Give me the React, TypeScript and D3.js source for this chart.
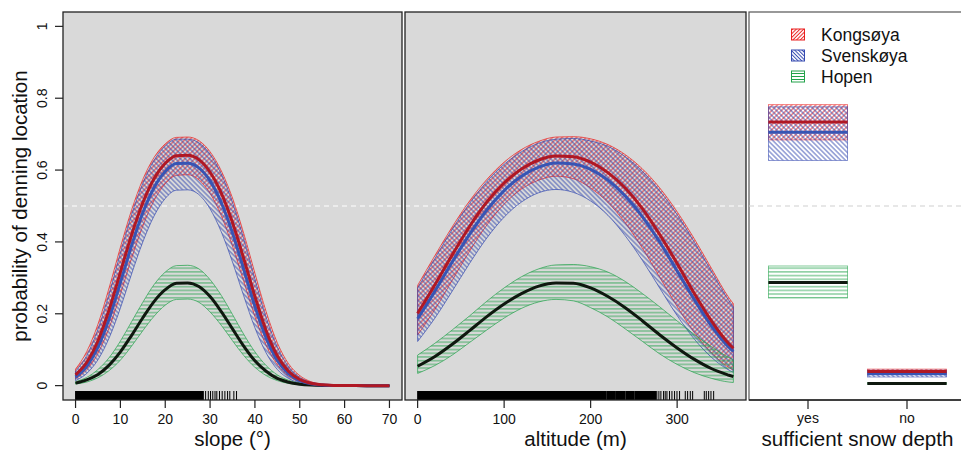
import React from "react";
import * as d3 from "d3";

// ---------- data ----------
const slopeX = [0, 2.5, 5, 7.5, 10, 12.5, 15, 17.5, 20, 22.5, 25, 27.5, 30, 32.5, 35, 37.5, 40, 42.5, 45, 47.5, 50, 52.5, 55, 57.5, 60, 65, 70];
const slopeKongMean = [0.030, 0.065, 0.125, 0.212, 0.316, 0.420, 0.509, 0.576, 0.619, 0.640, 0.641, 0.629, 0.594, 0.536, 0.454, 0.354, 0.248, 0.153, 0.083, 0.040, 0.017, 0.0066, 0.0023, 0.0006, 0.0001, 0, 0];
const slopeKongHi = [0.046, 0.095, 0.171, 0.273, 0.385, 0.489, 0.574, 0.635, 0.673, 0.691, 0.692, 0.682, 0.651, 0.598, 0.522, 0.424, 0.313, 0.206, 0.119, 0.061, 0.028, 0.011, 0.0042, 0.0014, 0.0005, 0, 0];
const slopeKongLo = [0.019, 0.044, 0.090, 0.161, 0.254, 0.354, 0.444, 0.515, 0.562, 0.585, 0.587, 0.573, 0.535, 0.473, 0.388, 0.290, 0.192, 0.112, 0.058, 0.026, 0.011, 0.0039, 0.0013, 0.0004, 0.0001, 0, 0];
const slopeSvenMean = [0.024, 0.054, 0.107, 0.187, 0.287, 0.390, 0.481, 0.551, 0.596, 0.618, 0.619, 0.606, 0.570, 0.509, 0.425, 0.324, 0.221, 0.133, 0.070, 0.033, 0.014, 0.0051, 0.0017, 0.0005, 0.0001, 0, 0];
const slopeSvenHi = [0.040, 0.084, 0.157, 0.256, 0.369, 0.476, 0.563, 0.627, 0.667, 0.686, 0.686, 0.676, 0.644, 0.589, 0.510, 0.409, 0.296, 0.190, 0.107, 0.053, 0.023, 0.0092, 0.0033, 0.0011, 0.0003, 0, 0];
const slopeSvenLo = [0.014, 0.034, 0.072, 0.133, 0.216, 0.311, 0.400, 0.472, 0.521, 0.544, 0.545, 0.532, 0.492, 0.428, 0.344, 0.250, 0.161, 0.091, 0.045, 0.020, 0.0078, 0.0028, 0.0009, 0.0003, 0, 0, 0];
const slopeHopenMean = [0.007, 0.016, 0.031, 0.057, 0.094, 0.140, 0.189, 0.234, 0.267, 0.285, 0.286, 0.276, 0.248, 0.206, 0.158, 0.110, 0.069, 0.040, 0.020, 0.0094, 0.0040, 0.0015, 0.0005, 0.0002, 0.0001, 0, 0];
const slopeHopenHi = [0.011, 0.023, 0.045, 0.078, 0.124, 0.178, 0.232, 0.281, 0.316, 0.334, 0.335, 0.325, 0.295, 0.251, 0.198, 0.143, 0.094, 0.056, 0.030, 0.015, 0.0065, 0.0026, 0.0009, 0.0003, 0.0001, 0, 0];
const slopeHopenLo = [0.0045, 0.010, 0.022, 0.042, 0.071, 0.110, 0.153, 0.193, 0.224, 0.240, 0.241, 0.232, 0.205, 0.168, 0.125, 0.084, 0.051, 0.028, 0.014, 0.0061, 0.0025, 0.0009, 0.0003, 0.0001, 0, 0, 0];

const altX = [0, 20, 40, 60, 80, 100, 120, 140, 160, 180, 200, 220, 240, 260, 280, 300, 320, 340, 360, 365];
const altKongMean = [0.201, 0.281, 0.364, 0.443, 0.511, 0.564, 0.603, 0.628, 0.639, 0.637, 0.622, 0.593, 0.550, 0.492, 0.420, 0.340, 0.256, 0.179, 0.116, 0.104];
const altKongHi = [0.279, 0.362, 0.442, 0.514, 0.574, 0.622, 0.657, 0.680, 0.692, 0.693, 0.687, 0.671, 0.643, 0.603, 0.550, 0.484, 0.408, 0.325, 0.244, 0.228];
const altKongLo = [0.141, 0.212, 0.293, 0.374, 0.447, 0.505, 0.547, 0.572, 0.583, 0.576, 0.550, 0.510, 0.453, 0.382, 0.301, 0.220, 0.147, 0.090, 0.050, 0.043];
const altSvenMean = [0.186, 0.263, 0.344, 0.421, 0.489, 0.543, 0.583, 0.608, 0.620, 0.617, 0.602, 0.572, 0.528, 0.470, 0.399, 0.319, 0.239, 0.165, 0.106, 0.095];
const altSvenHi = [0.272, 0.354, 0.435, 0.507, 0.568, 0.616, 0.651, 0.675, 0.686, 0.688, 0.681, 0.666, 0.637, 0.596, 0.542, 0.476, 0.399, 0.317, 0.236, 0.219];
const altSvenLo = [0.123, 0.188, 0.263, 0.340, 0.411, 0.469, 0.511, 0.537, 0.546, 0.538, 0.514, 0.474, 0.417, 0.348, 0.271, 0.195, 0.129, 0.078, 0.043, 0.037];
const altHopenMean = [0.054, 0.081, 0.115, 0.153, 0.192, 0.227, 0.256, 0.277, 0.286, 0.285, 0.272, 0.248, 0.217, 0.180, 0.141, 0.105, 0.073, 0.047, 0.029, 0.025];
const altHopenHi = [0.085, 0.118, 0.155, 0.194, 0.235, 0.272, 0.303, 0.325, 0.336, 0.337, 0.331, 0.316, 0.290, 0.256, 0.219, 0.180, 0.142, 0.108, 0.078, 0.072];
const altHopenLo = [0.034, 0.056, 0.085, 0.120, 0.155, 0.188, 0.215, 0.233, 0.240, 0.236, 0.217, 0.191, 0.158, 0.123, 0.088, 0.059, 0.036, 0.020, 0.010, 0.009];

const snowCats = ["yes", "no"];
const snowKongMean = [0.734, 0.039];
const snowKongHi = [0.782, 0.046];
const snowKongLo = [0.684, 0.031];
const snowSvenMean = [0.705, 0.033];
const snowSvenHi = [0.776, 0.043];
const snowSvenLo = [0.627, 0.024];
const snowHopenMean = [0.287, 0.006];
const snowHopenHi = [0.333, 0.008];
const snowHopenLo = [0.244, 0.004];

const slopeRugDense = [[0, 28.5]];
const slopeRugTicks = [29.0, 29.6, 30.1, 30.6, 31.1, 31.5, 32.1, 32.7, 33.3, 33.9, 34.4, 35.3, 35.9];
const altRugDense = [[0, 217.5], [218.6, 228.6], [229.7, 239.6], [240.7, 250.4], [251.5, 275.5]];
const altRugTicks = [276.5, 278.9, 281.2, 284.3, 286.2, 288.2, 291.2, 294, 297, 299.8, 302.8, 309.4, 312.1, 315.2, 317.9, 331.4, 333.7, 336.4, 339.1, 342.2];

const yTicks = [0, 0.2, 0.4, 0.6, 0.8, 1];
const yTickLabels = ["0", "0.2", "0.4", "0.6", "0.8", "1"];
const slopeTicks = [0, 10, 20, 30, 40, 50, 60, 70];
const altTicks = [0, 100, 200, 300];

const legendNames = ["Kongsøya", "Svenskøya", "Hopen"];

// ---------- styles ----------
const FONT = "'Liberation Sans', Arial, Helvetica, sans-serif";
const RED_H = "#ea2020";
const BLUE_H = "#3449b0";
const GREEN_H = "#22a24a";
const RED_L = "#b01824";
const BLUE_L = "#3755b4";
const BLACK_L = "#0f180f";

type Row = { x: number; m: number; lo: number; hi: number };
const rows = (xs: number[], m: number[], lo: number[], hi: number[]): Row[] =>
  xs.map((x, i) => ({ x, m: m[i], lo: lo[i], hi: hi[i] }));

const W = 961, H = 455;
const TOP = 12, BOT = 400;

export default function App() {
  const y = d3.scaleLinear().domain([-0.04, 1.04]).range([BOT, TOP]);
  const x1 = d3.scaleLinear().domain([-2.8, 72.8]).range([63, 402]);
  const x2 = d3.scaleLinear().domain([-14.6, 379.6]).range([405, 746]);
  const x3 = d3.scaleLinear().domain([0.404, 2.596]).range([749, 966]);

  const groupsSlope = [
    { d: rows(slopeX, slopeKongMean, slopeKongLo, slopeKongHi), fill: "url(#hRed)", stroke: RED_H, line: RED_L },
    { d: rows(slopeX, slopeSvenMean, slopeSvenLo, slopeSvenHi), fill: "url(#hBlue)", stroke: BLUE_H, line: BLUE_L },
    { d: rows(slopeX, slopeHopenMean, slopeHopenLo, slopeHopenHi), fill: "url(#hGreen)", stroke: GREEN_H, line: BLACK_L },
  ];
  const groupsAlt = [
    { d: rows(altX, altKongMean, altKongLo, altKongHi), fill: "url(#hRed)", stroke: RED_H, line: RED_L },
    { d: rows(altX, altSvenMean, altSvenLo, altSvenHi), fill: "url(#hBlue)", stroke: BLUE_H, line: BLUE_L },
    { d: rows(altX, altHopenMean, altHopenLo, altHopenHi), fill: "url(#hGreen)", stroke: GREEN_H, line: BLACK_L },
  ];

  const panel = (
    xs: d3.ScaleLinear<number, number>,
    groups: typeof groupsSlope,
    ticks: number[],
    rugDense: number[][],
    rugTicks: number[],
    title: string,
    key: string
  ) => {
    const area = d3.area<Row>().x((d) => xs(d.x)).y0((d) => y(d.lo)).y1((d) => y(d.hi)).curve(d3.curveMonotoneX);
    const line = d3.line<Row>().x((d) => xs(d.x)).y((d) => y(d.m)).curve(d3.curveMonotoneX);
    const [r0, r1] = xs.range();
    return (
      <g key={key}>
        <rect x={r0} y={TOP} width={r1 - r0} height={BOT - TOP} fill="#d9d9d9" />
        <line x1={r0} x2={r1} y1={y(0.5)} y2={y(0.5)} stroke="#ffffff" strokeWidth={1.2} strokeDasharray="5,4" />
        {groups.map((g, i) => (
          <path key={"a" + i} d={area(g.d) || ""} fill={g.fill} stroke={g.stroke} strokeWidth={0.7} />
        ))}
        {[2, 1, 0].map((i) => (
          <path key={"l" + i} d={line(groups[i].d) || ""} fill="none" stroke={groups[i].line} strokeWidth={3} />
        ))}
        {rugDense.map((r, i) => (
          <rect key={"rd" + i} x={xs(r[0]) - 0.5} y={391} width={xs(r[1]) - xs(r[0]) + 1} height={BOT - 391} fill="#000" />
        ))}
        {rugTicks.map((t, i) => (
          <line key={"rt" + i} x1={xs(t)} x2={xs(t)} y1={391} y2={BOT} stroke="#000" strokeWidth={1} />
        ))}
        <rect x={r0} y={TOP} width={r1 - r0} height={BOT - TOP} fill="none" stroke="#222" strokeWidth={1.3} />
        {ticks.map((t) => (
          <g key={"t" + t}>
            <line x1={xs(t)} x2={xs(t)} y1={BOT} y2={BOT + 8} stroke="#222" strokeWidth={1.2} />
            <text x={xs(t)} y={424} textAnchor="middle" fontSize={14} fontFamily={FONT} fill="#111">{t}</text>
          </g>
        ))}
        <text x={(r0 + r1) / 2} y={446} textAnchor="middle" fontSize={20.5} fontFamily={FONT} fill="#111">{title}</text>
      </g>
    );
  };

  const fills = ["url(#hRed)", "url(#hBlue)", "url(#hGreen)"];
  const strokes = [RED_H, BLUE_H, GREEN_H];
  const lines = [RED_L, BLUE_L, BLACK_L];
  const snowM = [snowKongMean, snowSvenMean, snowHopenMean];
  const snowLo = [snowKongLo, snowSvenLo, snowHopenLo];
  const snowHi = [snowKongHi, snowSvenHi, snowHopenHi];
  const halfW = x3(1.4) - x3(1);

  return (
    <svg width={W} height={H} style={{ position: "absolute", left: 0, top: 0, background: "#fff" }}>
      <defs>
        <pattern id="hRed" patternUnits="userSpaceOnUse" width={3.4} height={3.4} patternTransform="rotate(-45)">
          <line x1={0} y1={1.7} x2={3.4} y2={1.7} stroke={RED_H} strokeWidth={0.85} />
        </pattern>
        <pattern id="hBlue" patternUnits="userSpaceOnUse" width={3.4} height={3.4} patternTransform="rotate(45)">
          <line x1={0} y1={1.7} x2={3.4} y2={1.7} stroke={BLUE_H} strokeWidth={0.85} />
        </pattern>
        <pattern id="hGreen" patternUnits="userSpaceOnUse" width={4} height={3.7}>
          <line x1={0} y1={1.8} x2={4} y2={1.8} stroke={GREEN_H} strokeWidth={0.85} />
        </pattern>
        <pattern id="lRed" patternUnits="userSpaceOnUse" width={2.6} height={2.6} patternTransform="rotate(-45)">
          <line x1={0} y1={1.3} x2={2.6} y2={1.3} stroke={RED_H} strokeWidth={1} />
        </pattern>
        <pattern id="lBlue" patternUnits="userSpaceOnUse" width={2.6} height={2.6} patternTransform="rotate(45)">
          <line x1={0} y1={1.3} x2={2.6} y2={1.3} stroke={BLUE_H} strokeWidth={1} />
        </pattern>
        <pattern id="lGreen" patternUnits="userSpaceOnUse" width={4} height={3}>
          <line x1={0} y1={1.5} x2={4} y2={1.5} stroke={GREEN_H} strokeWidth={1} />
        </pattern>
      </defs>

      {panel(x1, groupsSlope, slopeTicks, slopeRugDense, slopeRugTicks, "slope (°)", "p1")}
      {panel(x2, groupsAlt, altTicks, altRugDense, altRugTicks, "altitude (m)", "p2")}

      {/* y axis */}
      {yTicks.map((t, i) => (
        <g key={"y" + t}>
          <line x1={55} x2={63} y1={y(t)} y2={y(t)} stroke="#222" strokeWidth={1.2} />
          <text transform={`translate(46.5,${y(t)}) rotate(-90)`} textAnchor="middle" fontSize={14} fontFamily={FONT} fill="#111">{yTickLabels[i]}</text>
        </g>
      ))}
      <text transform={`translate(27,${(TOP + BOT) / 2}) rotate(-90)`} textAnchor="middle" fontSize={20.5} fontFamily={FONT} fill="#111">
        probability of denning location
      </text>

      {/* panel 3 */}
      <g>
        <rect x={749} y={TOP} width={230} height={BOT - TOP} fill="#fff" stroke="#555" strokeWidth={1.2} />
        <line x1={749} x2={966} y1={y(0.5)} y2={y(0.5)} stroke="#cfcfcf" strokeWidth={1.2} strokeDasharray="5,4" />
        {snowCats.map((c, ci) => (
          <g key={c}>
            {[0, 1, 2].map((g) => (
              <rect key={"b" + g} x={x3(ci + 1) - halfW} width={2 * halfW} y={y(snowHi[g][ci])} height={y(snowLo[g][ci]) - y(snowHi[g][ci])}
                fill={fills[g]} stroke={strokes[g]} strokeWidth={0.8} strokeOpacity={0.7} />
            ))}
            {[2, 1, 0].map((g) => (
              <line key={"m" + g} x1={x3(ci + 1) - halfW} x2={x3(ci + 1) + halfW} y1={y(snowM[g][ci])} y2={y(snowM[g][ci])} stroke={lines[g]} strokeWidth={3} />
            ))}
            <line x1={x3(ci + 1)} x2={x3(ci + 1)} y1={BOT} y2={BOT + 9} stroke="#222" strokeWidth={1.2} />
            <text x={x3(ci + 1)} y={423} textAnchor="middle" fontSize={14} fontFamily={FONT} fill="#111">{c}</text>
          </g>
        ))}
        <line x1={749} x2={966} y1={BOT} y2={BOT} stroke="#222" strokeWidth={1.5} />
        <text x={857.5} y={446} textAnchor="middle" fontSize={20.6} fontFamily={FONT} fill="#111">sufficient snow depth</text>
        {legendNames.map((n, i) => (
          <g key={n}>
            <rect x={791.5} y={29 + i * 21} width={13} height={11} fill={["url(#lRed)", "url(#lBlue)", "url(#lGreen)"][i]} stroke={strokes[i]} strokeWidth={1} />
            <text x={821} y={40.5 + i * 21} fontSize={17.5} fontFamily={FONT} fill="#111">{n}</text>
          </g>
        ))}
      </g>
    </svg>
  );
}
